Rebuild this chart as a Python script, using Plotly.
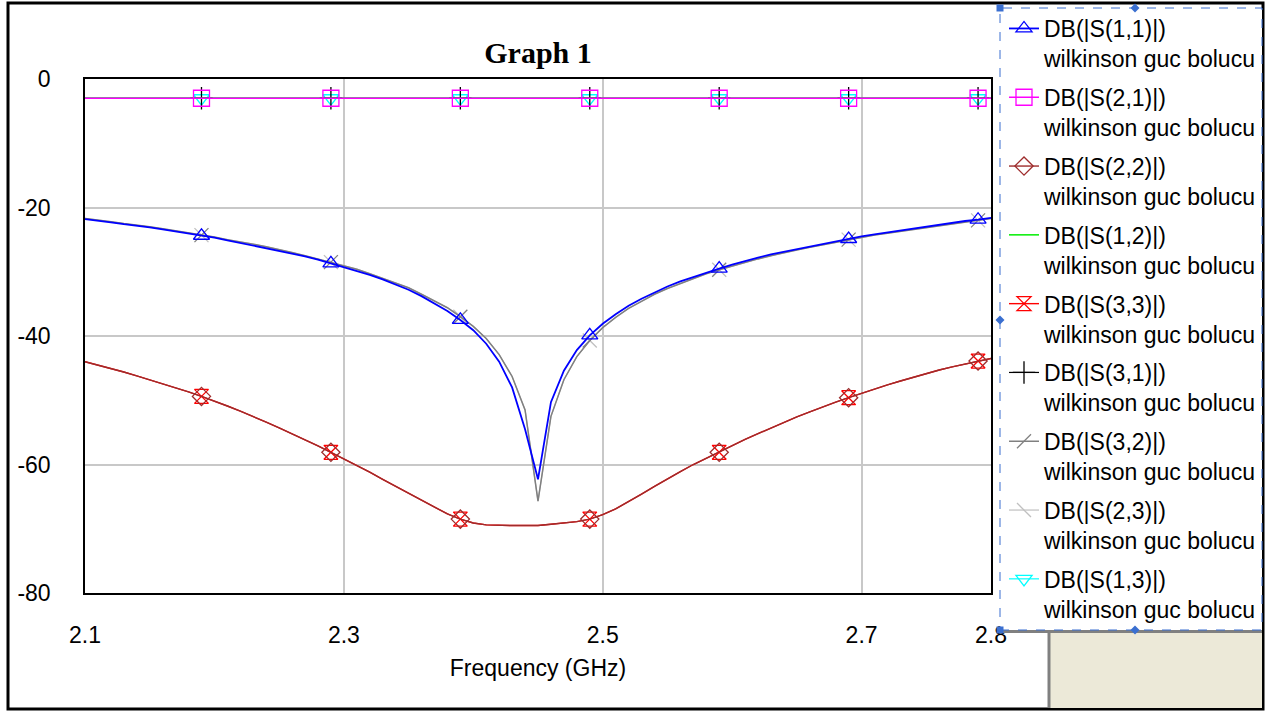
import plotly.graph_objects as go

# ---------------- data ----------------
freq_ghz = [2.10, 2.11, 2.12, 2.13, 2.14, 2.15, 2.16, 2.17, 2.18, 2.19,
            2.20, 2.21, 2.22, 2.23, 2.24, 2.25, 2.26, 2.27, 2.28, 2.29,
            2.30, 2.31, 2.32, 2.33, 2.34, 2.35, 2.36, 2.37, 2.38, 2.39,
            2.40, 2.41, 2.42, 2.43, 2.44, 2.45, 2.46, 2.47, 2.48, 2.49,
            2.50, 2.51, 2.52, 2.53, 2.54, 2.55, 2.56, 2.57, 2.58, 2.59,
            2.60, 2.61, 2.62, 2.63, 2.64, 2.65, 2.66, 2.67, 2.68, 2.69,
            2.70, 2.71, 2.72, 2.73, 2.74, 2.75, 2.76, 2.77, 2.78, 2.79, 2.80]

s11_db = [-21.8, -22.0, -22.3, -22.6, -22.8, -23.1, -23.4, -23.7, -24.1, -24.4,
          -24.7, -25.1, -25.5, -25.9, -26.3, -26.7, -27.1, -27.6, -28.1, -28.7,
          -29.2, -29.9, -30.5, -31.2, -32.0, -32.8, -33.8, -34.9, -36.1, -37.5,
          -39.1, -41.2, -44.0, -48.0, -54.5, -62.3, -50.3, -45.4, -42.2, -39.9,
          -38.1, -36.6, -35.3, -34.2, -33.2, -32.3, -31.5, -30.8, -30.1, -29.5,
          -28.9, -28.3, -27.8, -27.3, -26.9, -26.4, -26.0, -25.6, -25.2, -24.9,
          -24.5, -24.2, -23.9, -23.5, -23.2, -23.0, -22.7, -22.4, -22.1, -21.9, -21.6]

s32_db = [-21.7, -21.9, -22.2, -22.5, -22.7, -23.0, -23.3, -23.6, -23.9, -24.3,
          -24.6, -25.0, -25.3, -25.7, -26.1, -26.5, -27.0, -27.5, -28.0, -28.5,
          -29.0, -29.6, -30.3, -31.0, -31.7, -32.5, -33.5, -34.5, -35.6, -37.0,
          -38.5, -40.4, -42.9, -46.3, -51.5, -65.7, -52.5, -46.8, -43.2, -40.7,
          -38.7, -37.1, -35.7, -34.6, -33.5, -32.6, -31.8, -31.0, -30.3, -29.7,
          -29.1, -28.5, -28.0, -27.5, -27.0, -26.6, -26.2, -25.8, -25.4, -25.0,
          -24.6, -24.3, -24.0, -23.7, -23.4, -23.1, -22.8, -22.5, -22.2, -22.0, -21.7]
s23_db = list(s32_db)

s22_db = [-44.0, -44.5, -45.1, -45.6, -46.2, -46.8, -47.4, -48.0, -48.7, -49.4,
          -50.1, -50.9, -51.7, -52.5, -53.4, -54.3, -55.2, -56.1, -57.1, -58.1,
          -59.1, -60.1, -61.2, -62.3, -63.4, -64.5, -65.6, -66.7, -67.7, -68.5,
          -69.1, -69.4, -69.5, -69.5, -69.5, -69.5, -69.3, -69.1, -68.9, -68.5,
          -67.8, -66.9, -65.8, -64.6, -63.4, -62.2, -61.1, -60.0, -59.0, -58.1,
          -57.1, -56.1, -55.2, -54.3, -53.4, -52.6, -51.8, -51.0, -50.3, -49.6,
          -48.9, -48.2, -47.6, -47.0, -46.4, -45.9, -45.3, -44.8, -44.4, -43.9, -43.5]
s33_db = list(s22_db)

s21_db = [-3.0] * len(freq_ghz)
s12_db = list(s21_db)
s31_db = list(s21_db)
s13_db = list(s21_db)

marker_freqs = [2.19, 2.29, 2.39, 2.49, 2.59, 2.69, 2.79]

x_tick_vals = [2.1, 2.3, 2.5, 2.7, 2.8]
x_tick_text = ["2.1", "2.3", "2.5", "2.7", "2.8"]
y_tick_vals = [0, -20, -40, -60, -80]
y_tick_text = ["0", "-20", "-40", "-60", "-80"]

series_names = ["DB(|S(1,1)|)", "DB(|S(2,1)|)", "DB(|S(2,2)|)", "DB(|S(1,2)|)",
                "DB(|S(3,3)|)", "DB(|S(3,1)|)", "DB(|S(3,2)|)", "DB(|S(2,3)|)",
                "DB(|S(1,3)|)"]
series_values = [s11_db, s21_db, s22_db, s12_db, s33_db, s31_db, s32_db, s23_db, s13_db]
doc_name = "wilkinson guc bolucu"

# ---------------- styles ----------------
styles = [
    dict(color="#0000ff", symbol="triangle-up-open", size=14, width=1.8),
    dict(color="#ff00ff", symbol="square-open", size=16, width=1.5),
    dict(color="#9e2c2c", symbol="diamond-open", size=14, width=1.4),
    dict(color="#00ee00", symbol=None, size=0, width=1.5),
    dict(color="#ff0000", symbol="hourglass-open", size=14, width=1.4),
    dict(color="#000000", symbol="cross-thin-open", size=16, width=1.2),
    dict(color="#808080", symbol="line-ne-open", size=14, width=1.5),
    dict(color="#c0c0c0", symbol="line-nw-open", size=14, width=1.2),
    dict(color="#00ffff", symbol="triangle-down-open", size=14, width=1.2),
]

FONT = "Liberation Sans, Arial, sans-serif"
marker_idx = [freq_ghz.index(f) for f in marker_freqs]

fig = go.Figure()
# draw in reverse order so the first-listed series sit on top
for i in reversed(range(len(series_names))):
    st = styles[i]
    tr = dict(
        x=freq_ghz, y=series_values[i],
        name=series_names[i] + "<br>" + doc_name,
        legendgroup="g%d" % i,
        legendrank=i + 1,
        line=dict(color=st["color"], width=st["width"]),
        hoverinfo="skip",
    )
    if st["symbol"]:
        tr.update(
            mode="lines+markers",
            marker=dict(symbol=st["symbol"], size=st["size"], color=st["color"],
                        line=dict(color=st["color"], width=1.3)),
            selectedpoints=marker_idx,
            selected=dict(marker=dict(opacity=1)),
            unselected=dict(marker=dict(opacity=0)),
        )
    else:
        tr.update(mode="lines")
    fig.add_trace(go.Scatter(**tr))

# ---------------- layout / decoration ----------------
W, H = 1284, 713
L, R, T, B = 85, 991, 79, 593


def px(x):
    return (x - L) / (R - L)


def py(y):
    return (B - y) / (B - T)


shapes = []
# outer window frame
shapes.append(dict(type="rect", xref="paper", yref="paper",
                   x0=px(8), x1=px(1263), y0=py(709), y1=py(3),
                   line=dict(color="black", width=3), layer="above"))
# beige panel bottom right
shapes.append(dict(type="rect", xref="paper", yref="paper",
                   x0=px(1050), x1=px(1262), y0=py(708), y1=py(632),
                   fillcolor="#ece9d8", line=dict(width=0), layer="above"))
shapes.append(dict(type="line", xref="paper", yref="paper",
                   x0=px(1049), x1=px(1049), y0=py(708), y1=py(631),
                   line=dict(color="#808080", width=3), layer="above"))
shapes.append(dict(type="line", xref="paper", yref="paper",
                   x0=px(1000), x1=px(1262), y0=py(631.5), y1=py(631.5),
                   line=dict(color="#808080", width=3), layer="above"))
# legend panel (white, dashed selection frame)
shapes.append(dict(type="rect", xref="paper", yref="paper",
                   x0=px(1000), x1=px(1262), y0=py(630), y1=py(8),
                   fillcolor="white", line=dict(color="#3a6fd0", width=1, dash="dash"),
                   layer="above"))
# selection handles
for hx, hy in [(1000, 8), (1000, 630)]:
    shapes.append(dict(type="rect", xref="paper", yref="paper",
                       x0=px(hx - 3.5), x1=px(hx + 3.5), y0=py(hy + 3.5), y1=py(hy - 3.5),
                       fillcolor="#3a6fd0", line=dict(width=0), layer="above"))
for hx, hy in [(1135, 8), (1000, 320), (1135, 630)]:
    d = 4.5
    path = "M %f,%f L %f,%f L %f,%f L %f,%f Z" % (
        px(hx - d), py(hy), px(hx), py(hy - d), px(hx + d), py(hy), px(hx), py(hy + d))
    shapes.append(dict(type="path", xref="paper", yref="paper", path=path,
                       fillcolor="#3a6fd0", line=dict(width=0), layer="above"))

fig.update_layout(
    width=W, height=H,
    margin=dict(l=L, r=W - R, t=T, b=H - B, autoexpand=False),
    paper_bgcolor="white", plot_bgcolor="white",
    font=dict(family=FONT, color="black"),
    title=dict(text="Graph 1", x=0.5, xref="paper", xanchor="center",
               y=1 - 52 / H, yref="container", yanchor="middle",
               font=dict(family="Liberation Serif, Times New Roman, serif",
                         size=30, weight="bold", color="black")),
    xaxis=dict(range=[2.1, 2.8], tickvals=x_tick_vals, ticktext=x_tick_text,
               showgrid=True, gridcolor="#c8c8c8", gridwidth=1.5,
               showline=True, linecolor="black", linewidth=1.5, mirror=True,
               ticks="outside", ticklen=21, tickcolor="rgba(0,0,0,0)",
               tickfont=dict(family=FONT, size=23, color="black"),
               title=dict(text="Frequency (GHz)", standoff=13,
                          font=dict(family=FONT, size=23, color="black")),
               zeroline=False),
    yaxis=dict(range=[-80, 0], tickvals=y_tick_vals, ticktext=y_tick_text,
               showgrid=True, gridcolor="#c8c8c8", gridwidth=1.5,
               showline=True, linecolor="black", linewidth=1.5, mirror=True,
               ticks="outside", ticklen=28, tickcolor="rgba(0,0,0,0)",
               tickfont=dict(family=FONT, size=23, color="black"),
               zeroline=False),
    legend=dict(x=px(1004), y=py(7), xref="paper", yref="paper",
                xanchor="left", yanchor="top",
                bgcolor="rgba(0,0,0,0)", borderwidth=0,
                traceorder="grouped", tracegroupgap=6,
                valign="top", itemwidth=30, maxheight=700,
                font=dict(family=FONT, size=23, color="black")),
    shapes=shapes,
    showlegend=True,
)

fig.write_html("out.html")
